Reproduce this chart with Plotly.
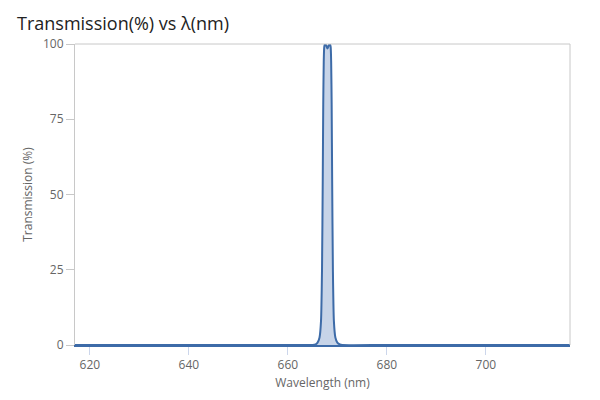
import plotly.graph_objects as go

# transmission spectrum (nm, %)
wavelength = [617, 660, 665, 665.6, 666.0, 666.4, 666.7, 666.9, 667.05, 667.15,
              667.25, 667.35, 667.5, 667.75, 668.0, 668.25, 668.5, 668.65, 668.75,
              668.85, 668.95, 669.1, 669.3, 669.6, 670.0, 670.5, 671, 680, 717]
transmission = [0, 0, 0, 0.2, 0.8, 2.5, 8, 25, 55, 80,
                94, 99, 100, 99.5, 98.5, 99.5, 100, 99, 94,
                80, 55, 25, 8, 2.5, 0.8, 0.2, 0, 0, 0]

x_ticks = [620, 640, 660, 680, 700]
y_ticks = [0, 25, 50, 75, 100]

line_color = "#3d6ba8"
grid_color = "#c8c8c8"
label_color = "#666666"

# the page body has an 8px margin, so the figure is 8px smaller than the window
W, H = 592, 392
L, R, T, B = 67, 30, 36, 55
plot_w, plot_h = W - L - R, H - T - B

fig = go.Figure(go.Scatter(
    x=wavelength, y=transmission,
    mode="lines",
    line=dict(color=line_color, width=2, shape="spline", smoothing=0.6),
    fill="tozeroy",
    fillcolor="rgba(69,114,180,0.3)",
    hoverinfo="x+y",
))

fig.update_layout(
    width=W, height=H,
    paper_bgcolor="white", plot_bgcolor="white",
    margin=dict(l=L, r=R, t=T, b=B, autoexpand=False),
    font=dict(family="Open Sans, Lato, sans-serif", color=label_color, size=12),
    showlegend=False,
    xaxis=dict(
        range=[617, 717], tickvals=x_ticks, showgrid=False, zeroline=False,
        ticks="outside", ticklen=8, tickcolor="#ccd6eb", automargin=False,
        showline=True, linecolor=line_color, linewidth=1.5,
        title=dict(text="Wavelength (nm)", standoff=6, font=dict(size=12, color=label_color)),
    ),
    yaxis=dict(
        range=[0, 100], tickvals=y_ticks, showgrid=False, zeroline=False,
        ticks="outside", ticklen=8, tickcolor=grid_color, automargin=False,
        showline=True, linecolor=grid_color, linewidth=1,
        title=dict(text="Transmission (%)", standoff=7, font=dict(size=12, color=label_color)),
    ),
    shapes=[
        dict(type="line", xref="paper", yref="paper", x0=0, x1=1, y0=1, y1=1,
             line=dict(color=grid_color, width=1)),
        dict(type="line", xref="paper", yref="paper", x0=1, x1=1, y0=0, y1=1,
             line=dict(color=grid_color, width=1)),
    ],
    annotations=[dict(
        text="Transmission(%) vs λ(nm)", showarrow=False,
        xref="paper", yref="paper",
        x=(7 - L) / plot_w, xanchor="left",
        y=1 + (T - 1) / plot_h, yanchor="top",
        font=dict(size=18, color="#222222"),
    )],
)

fig.write_html("out.html")
